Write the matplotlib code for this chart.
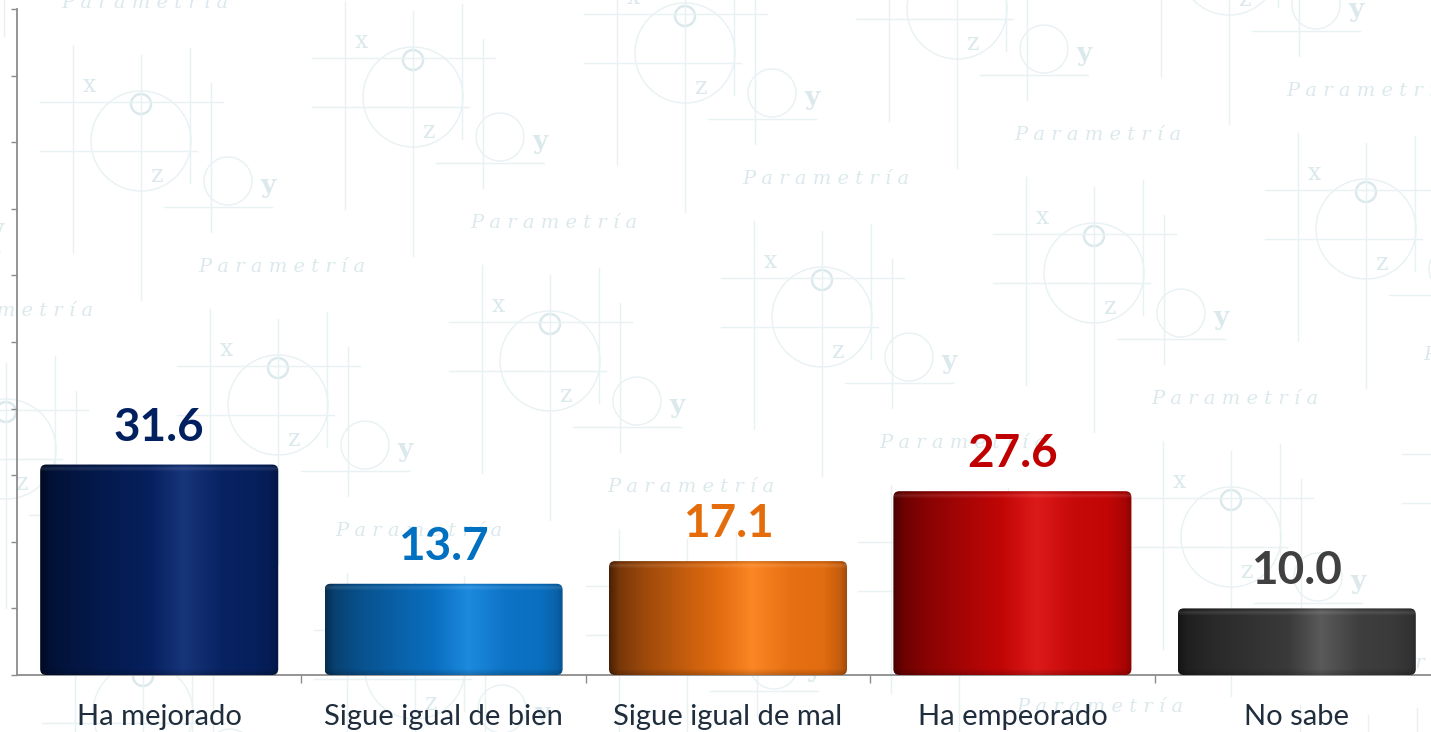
import numpy as np
import matplotlib
matplotlib.use("Agg")
import matplotlib.pyplot as plt
from matplotlib.patches import FancyBboxPatch, Circle
from matplotlib.colors import to_rgb

# ---------------- data ----------------
categories = ["Ha mejorado", "Sigue igual de bien", "Sigue igual de mal", "Ha empeorado", "No sabe"]
values = [31.6, 13.7, 17.1, 27.6, 10.0]
label_colors = ["#002060", "#0070c0", "#e46c0a", "#c00000", "#404040"]
bar_dark = ["#000a22", "#062e50", "#4a2005", "#480000", "#151515"]
bar_main = ["#06205e", "#0a6fc0", "#e26c10", "#c20606", "#3a3a3a"]
bar_light = ["#17357a", "#1d8ade", "#fb8624", "#dd1a1a", "#5a5a5a"]

W, H = 1431, 732
fig = plt.figure(figsize=(W / 100, H / 100), dpi=100)
fig.patch.set_facecolor("white")

# ---------------- watermark background ----------------
bg = fig.add_axes([0, 0, 1, 1], zorder=0)
bg.set_xlim(0, W)
bg.set_ylim(H, 0)
bg.axis("off")
wm_line = "#e8f1f3"
wm_text = "#dce9ec"
lw = 1.0


def motif(cx, cy):
    segs_v = [(0, -86, 159), (-68, -96, 112), (49, -93, 42), (70, -58, 91)]
    segs_h = [(-39, -101, 82), (10, -101, 56), (66, 23, 131)]
    for dx, y0, y1 in segs_v:
        bg.plot([cx + dx, cx + dx], [cy + y0, cy + y1], color=wm_line, lw=lw)
    for dy, x0, x1 in segs_h:
        bg.plot([cx + x0, cx + x1], [cy + dy, cy + dy], color=wm_line, lw=lw)
    bg.add_patch(Circle((cx, cy), 50, fill=False, ec=wm_line, lw=lw))
    bg.add_patch(Circle((cx, cy - 37), 10, fill=False, ec=wm_text, lw=1.8))
    bg.add_patch(Circle((cx + 87, cy + 40), 24, fill=False, ec=wm_line, lw=lw))
    for dx, dy, s, fs, wt in [(-52, -55, "x", 17, "normal"), (16, 34, "z", 17, "normal"),
                              (127, 44, "y", 19, "bold")]:
        px, py = cx + dx, cy + dy
        if -8 < px < W + 8 and -10 < py < H + 10:
            bg.text(px, py, s, color=wm_text, fontsize=fs, family="DejaVu Serif",
                    weight=wt, ha="center", va="center")
    tx, ty = cx + 57, cy + 131
    if -170 < tx < W - 5 and 3 < ty < H + 15:
        bg.text(tx, ty, "P a r a m e t r í a", color=wm_text, fontsize=14,
                family="DejaVu Serif", style="italic", ha="left", va="baseline")


for i in range(-2, 7):
    for j in range(-1, 4):
        cx = 141 + i * 272 + j * 137
        cy = 141 - i * 44 + j * 264
        if -250 < cx < W + 150 and -250 < cy < H + 150:
            motif(cx, cy)

# ---------------- main axes ----------------
ax = fig.add_axes([17 / W, (H - 675) / H, (1439 - 17) / W, (675 - 9) / H], zorder=1)
ax.patch.set_alpha(0)
ax.set_xlim(-0.5, len(categories) - 0.5)
ax.set_ylim(0, 100)

bar_w = 0.837
x = np.arange(len(categories))
bars = ax.bar(x, values, width=bar_w, color="none", edgecolor="none", zorder=2)

fig.canvas.draw()
bb = ax.get_window_extent()
px_x = bb.width / (ax.get_xlim()[1] - ax.get_xlim()[0])
px_y = bb.height / (ax.get_ylim()[1] - ax.get_ylim()[0])


def mix(a, b, f):
    return a * (1 - f) + b * f


def shade(k, hpx, wpx):
    d = np.array(to_rgb(bar_dark[k]))
    m = np.array(to_rgb(bar_main[k]))
    l = np.array(to_rgb(bar_light[k]))
    nx = int(max(wpx, 2))
    ny = int(max(hpx, 2))
    t = np.linspace(0, 1, nx)
    stops = [0.0, 0.04, 0.15, 0.35, 0.46, 0.60, 0.76, 0.90, 0.97, 1.0]
    cols = [d, mix(d, m, 0.3), mix(d, m, 0.55), mix(d, m, 0.85), m, l,
            mix(m, l, 0.15), m, mix(m, d, 0.2), mix(m, d, 0.45)]
    row = np.stack([np.interp(t, stops, [c[ch] for c in cols]) for ch in range(3)], axis=1)
    img = np.repeat(row[None, :, :], ny, axis=0)
    yy = np.arange(ny)[:, None]  # 0 = top
    top = np.clip(1 - np.abs(yy - 4) / 3.0, 0, 1) * 0.10
    img = img + (1 - img) * top[:, :, None]
    edge = np.clip(1 - yy / 2.5, 0, 1) * 0.15
    img = img * (1 - edge[:, :, None])
    yb = ny - 1 - yy
    bot = np.clip(1 - yb / 6.0, 0, 1) * 0.18
    img = img * (1 - bot[:, :, None])
    return np.clip(img, 0, 1)


r_px = 6
for k, b in enumerate(bars):
    x0, w, h = b.get_x(), b.get_width(), b.get_height()
    hpx, wpx = h * px_y, w * px_x
    img = shade(k, hpx, wpx)
    im = ax.imshow(img, extent=(x0, x0 + w, 0, h), aspect="auto", origin="upper",
                   zorder=3, interpolation="bilinear")
    clip = FancyBboxPatch((x0, 0), w, h,
                          boxstyle=f"round,pad=0,rounding_size={r_px / px_x}",
                          mutation_aspect=(r_px / px_y) / (r_px / px_x),
                          transform=ax.transData, fc="none", ec="none")
    ax.add_patch(clip)
    im.set_clip_path(clip)
    ax.annotate(f"{values[k]:.1f}", (x[k], h), xytext=(0, 24), textcoords="offset pixels",
                ha="center", va="baseline", fontsize=33, fontweight="bold",
                color=label_colors[k], family="Lato", zorder=4)

ax.set_xlim(-0.5, len(categories) - 0.5)
ax.set_ylim(0, 100)

for s in ["top", "right"]:
    ax.spines[s].set_visible(False)
for s in ["left", "bottom"]:
    ax.spines[s].set_color("#8c8c8c")
    ax.spines[s].set_linewidth(1.3)

ax.set_yticks(np.arange(0, 101, 10))
ax.set_yticklabels([])
ax.tick_params(axis="y", direction="out", length=4.5, width=1.0, color="#8c8c8c")

ax.set_xticks(x)
ax.set_xticklabels(categories, fontsize=21, color="#1f2d3d", family="Lato")
ax.set_xticks(np.arange(0.5, len(categories) - 0.5, 1.0), minor=True)
ax.tick_params(axis="x", which="major", length=0, pad=21)
ax.tick_params(axis="x", which="minor", direction="out", length=6, width=1.0, color="#8c8c8c")

fig.savefig("out.png", dpi=100, facecolor="white")
